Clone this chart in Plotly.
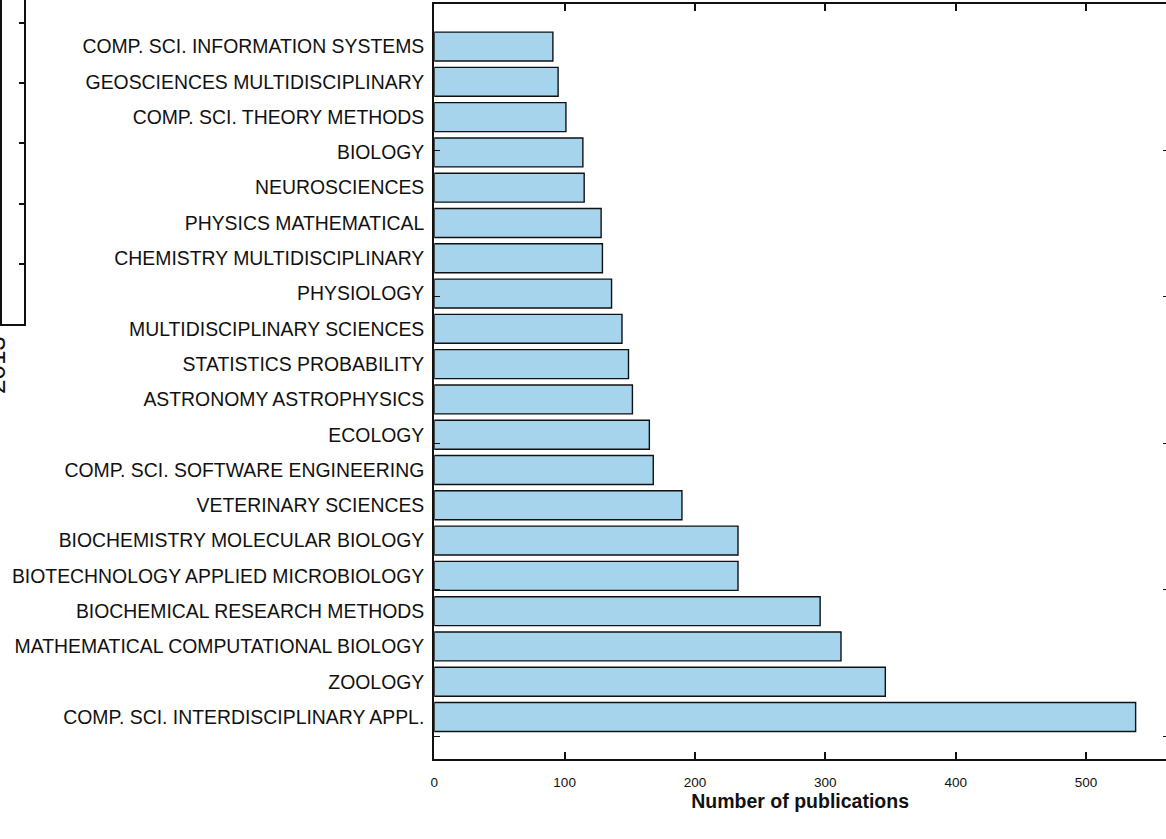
import plotly.graph_objects as go

# Subject categories (bottom to top) and publication counts
categories = [
    "COMP. SCI. INTERDISCIPLINARY APPL.",
    "ZOOLOGY",
    "MATHEMATICAL COMPUTATIONAL BIOLOGY",
    "BIOCHEMICAL RESEARCH METHODS",
    "BIOTECHNOLOGY APPLIED MICROBIOLOGY",
    "BIOCHEMISTRY MOLECULAR BIOLOGY",
    "VETERINARY SCIENCES",
    "COMP. SCI. SOFTWARE ENGINEERING",
    "ECOLOGY",
    "ASTRONOMY ASTROPHYSICS",
    "STATISTICS PROBABILITY",
    "MULTIDISCIPLINARY SCIENCES",
    "PHYSIOLOGY",
    "CHEMISTRY MULTIDISCIPLINARY",
    "PHYSICS MATHEMATICAL",
    "NEUROSCIENCES",
    "BIOLOGY",
    "COMP. SCI. THEORY METHODS",
    "GEOSCIENCES MULTIDISCIPLINARY",
    "COMP. SCI. INFORMATION SYSTEMS",
]
publications = [538, 346, 312, 296, 233, 233, 190, 168, 165, 152,
                149, 144, 136, 129, 128, 115, 114, 101, 95, 91]

x_ticks = [0, 100, 200, 300, 400, 500]

W, H = 1166, 839
FONT = "Liberation Sans, Arial, Helvetica, sans-serif"


def px_x(p):
    return p / W


def px_y(p):
    return 1 - p / H


fig = go.Figure()

fig.add_trace(go.Bar(
    x=publications,
    y=categories,
    orientation="h",
    width=0.82,
    marker=dict(color="#a6d4ed", line=dict(color="#111111", width=1.4)),
    hoverinfo="x+y",
    showlegend=False,
))

# empty traces so the auxiliary tick axes get drawn
for xa, ya in [("x", "y2"), ("x", "y3"), ("x4", "y4")]:
    fig.add_trace(go.Scatter(x=[None], y=[None], xaxis=xa, yaxis=ya,
                             showlegend=False, hoverinfo="skip"))

main_dom_x = [px_x(433), 1.0]
main_dom_y = [px_y(759), px_y(3.5)]

fig.update_layout(
    width=W, height=H,
    margin=dict(l=0, r=0, t=0, b=0),
    paper_bgcolor="white",
    plot_bgcolor="white",
    font=dict(family=FONT, color="#111111"),
    bargap=0.18,
    xaxis=dict(
        domain=main_dom_x,
        range=[0, 561.3],
        tickvals=x_ticks,
        ticks="inside", ticklen=7, tickwidth=1.5, tickcolor="#111111",
        showline=True, linecolor="#111111", linewidth=2.2, mirror="ticks",
        showgrid=False, zeroline=False,
        tickfont=dict(size=13.5, family=FONT),
        ticklabelstandoff=10,
        title=dict(text="<b>Number of publications</b>",
                   font=dict(size=19.5, family=FONT), standoff=3),
        automargin=False,
    ),
    yaxis=dict(
        domain=main_dom_y,
        type="category",
        categoryorder="array", categoryarray=categories,
        range=[-1.19, 20.22],
        ticks="", showline=True, linecolor="#111111", linewidth=2.2,
        showgrid=False, zeroline=False,
        tickfont=dict(size=19.4, family=FONT),
        ticklabelstandoff=4,
        automargin=False,
    ),
    yaxis2=dict(
        overlaying="y", side="left", anchor="x",
        range=[-0.157, 5.0], tickvals=[0, 1, 2, 3, 4],
        ticks="inside", ticklen=6, tickwidth=1.3, tickcolor="#111111",
        showticklabels=False, showline=False, showgrid=False, zeroline=False,
    ),
    yaxis3=dict(
        overlaying="y", side="right", anchor="x",
        range=[-0.157, 5.0], tickvals=[0, 1, 2, 3, 4],
        ticks="inside", ticklen=3, tickwidth=1.3, tickcolor="#111111",
        showticklabels=False, showline=False, showgrid=False, zeroline=False,
    ),
    xaxis4=dict(
        domain=[0.0, px_x(22.5)], anchor="y4", range=[0, 1],
        showline=True, linecolor="#111111", linewidth=2.2,
        showticklabels=False, ticks="", showgrid=False, zeroline=False,
    ),
    yaxis4=dict(
        domain=[px_y(324), 1.0], anchor="x4", side="right",
        range=[0, 5.38], tickvals=[1, 2, 3, 4, 5],
        ticks="inside", ticklen=5, tickwidth=1.5, tickcolor="#111111",
        showticklabels=False, showline=True, linecolor="#111111", linewidth=2.2,
        mirror=True, showgrid=False, zeroline=False,
    ),
    annotations=[dict(
        text="2013", textangle=-90,
        x=px_x(-6), y=px_y(365), xref="paper", yref="paper",
        xanchor="center", yanchor="middle", showarrow=False,
        font=dict(size=26, family=FONT, color="#111111"),
    )],
)

fig.write_html("out.html")
